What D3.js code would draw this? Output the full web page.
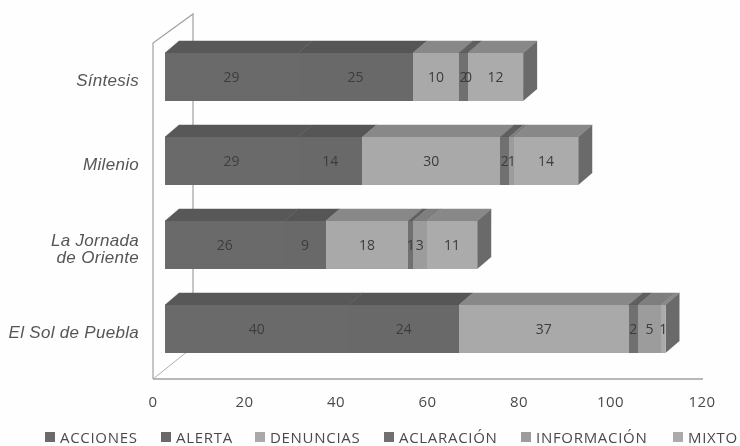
<!DOCTYPE html>
<html>
<head>
<meta charset="utf-8">
<script src="https://d3js.org/d3.v7.min.js"></script>
<style>
  body { margin: 0; background: #fff; }
  text { font-family: "Open Sans", sans-serif; fill: #4a4a4a; }
</style>
</head>
<body>
<div id="chart"></div>
<script>
// Chart data
const papers = ['Síntesis', 'Milenio', 'La Jornada|de Oriente', 'El Sol de Puebla'];
const seriesNames = ['ACCIONES', 'ALERTA', 'DENUNCIAS', 'ACLARACIÓN', 'INFORMACIÓN', 'MIXTO'];
const acciones = [29, 29, 26, 40];
const alerta = [25, 14, 9, 24];
const denuncias = [10, 30, 18, 37];
const aclaracion = [2, 2, 1, 2];
const informacion = [0, 1, 3, 5];
const mixto = [12, 14, 11, 1];
const xTicks = [0, 20, 40, 60, 80, 100, 120];

const seriesValues = [acciones, alerta, denuncias, aclaracion, informacion, mixto];
const seriesColors = ['#6b6b6b', '#696969', '#a9a9a9', '#707070', '#9c9c9c', '#ababab'];
const topColors = ['#585858', '#565656', '#888888', '#5e5e5e', '#7e7e7e', '#888888'];

const width = 740;
const height = 446;
const depthX = 14;
const depthY = 12;

const svg = d3.select('#chart').append('svg')
  .attr('width', width)
  .attr('height', height);

// The reference is a soft scan, so everything gets a light blur
svg.append('defs').append('filter')
  .attr('id', 'soft')
  .attr('x', 0).attr('y', 0).attr('width', 1).attr('height', 1)
  .attr('filterUnits', 'objectBoundingBox')
  .append('feGaussianBlur')
  .attr('stdDeviation', 0.55);

const root = svg.append('g').attr('filter', 'url(#soft)');
root.append('rect')
  .attr('width', width).attr('height', height)
  .style('fill', '#fefefe');

// Scales for the front face of the bars
const x = d3.scaleLinear().domain([0, 120]).range([165, 716]);
const y = d3.scaleBand().domain(papers).range([36.2, 369.8]).paddingInner(0.4286).paddingOuter(0.2);

// 3D frame
root.append('path')
  .attr('d', d3.line()([[153, 379], [153, 43], [193, 14], [193, 347]]))
  .style('fill', 'none').style('stroke', '#a0a0a0').style('stroke-width', 1.2);
root.append('path')
  .attr('d', d3.line()([[153, 379], [193, 347]]))
  .style('stroke', '#b0b0b0');
root.append('path')
  .attr('d', d3.line()([[153, 379], [703, 379]]))
  .style('stroke', '#a0a0a0').style('stroke-width', 1.5);

// Bars
papers.forEach((paper, i) => {
  const top = y(paper);
  const h = y.bandwidth();
  let total = 0;
  const g = root.append('g');
  seriesValues.forEach((vals, s) => {
    const v = vals[i];
    const x0 = x(total);
    const x1 = x(total + v);
    // top face
    g.append('path')
      .attr('d', d3.line()([[x0, top], [x0 + depthX, top - depthY], [x1 + depthX, top - depthY], [x1, top]]) + 'Z')
      .style('fill', topColors[s])
      .style('stroke', topColors[s])
      .style('stroke-width', 0.5);
    g.append('rect')
      .attr('x', x0).attr('y', top)
      .attr('width', x1 - x0).attr('height', h)
      .style('fill', seriesColors[s])
      .attr('shape-rendering', 'crispEdges');
    total += v;
  });
  // end cap
  const endX = x(total);
  g.append('path')
    .attr('d', d3.line()([[endX, top], [endX + depthX, top - depthY], [endX + depthX, top + h - depthY], [endX, top + h]]) + 'Z')
    .style('fill', '#6a6a6a');

  // Value labels
  let run = 0;
  seriesValues.forEach((vals) => {
    const v = vals[i];
    root.append('text')
      .attr('x', x(run + v / 2))
      .attr('y', top + h / 2 + 5)
      .attr('text-anchor', 'middle')
      .style('font-size', '14px')
      .style('fill', '#3c3c3c')
      .text(v);
    run += v;
  });

  // Category labels
  const lines = paper.split('|');
  lines.forEach((line, k) => {
    root.append('text')
      .attr('x', 139)
      .attr('y', top + h / 2 + 9 - (lines.length - 1) * 8.5 + k * 17)
      .attr('text-anchor', 'end')
      .style('font-family', '"Liberation Sans", sans-serif')
      .style('font-size', '17px')
      .style('font-style', 'italic')
      .style('letter-spacing', '0.3px')
      .style('fill', '#555')
      .text(line);
  });
});

// Tick labels
const tickX = d3.scaleLinear().domain([0, 120]).range([153, 702]);
root.selectAll('.tick-label')
  .data(xTicks)
  .enter().append('text')
  .attr('class', 'tick-label')
  .attr('x', d => tickX(d))
  .attr('y', 407)
  .attr('text-anchor', 'middle')
  .style('font-size', '15px')
  .style('letter-spacing', '0.5px')
  .text(d => d);

// Legend
const legendX = [45, 161, 255, 384, 521, 673];
seriesNames.forEach((name, s) => {
  root.append('rect')
    .attr('x', legendX[s]).attr('y', 432)
    .attr('width', 10).attr('height', 10)
    .style('fill', seriesColors[s]);
  root.append('text')
    .attr('x', legendX[s] + 15)
    .attr('y', 443)
    .style('font-size', '15px')
    .style('letter-spacing', '0.7px')
    .text(name);
});
</script>
</body>
</html>
